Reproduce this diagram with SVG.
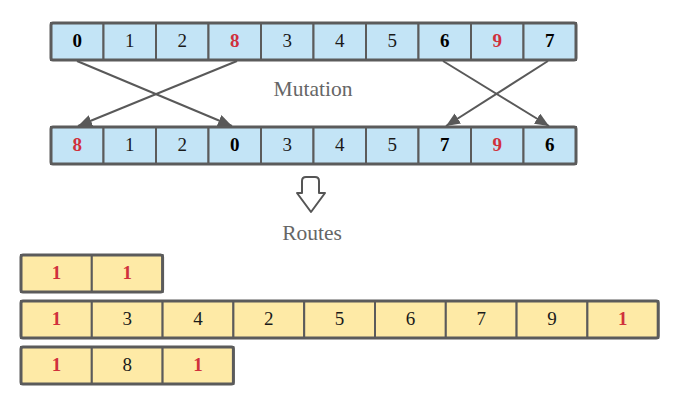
<svg xmlns="http://www.w3.org/2000/svg" width="681" height="407" viewBox="0 0 681 407">
<defs>
<style>
.b{fill:#c3e4f6;stroke:#5b5b5b;stroke-width:2}
.y{fill:#feeaa6;stroke:#5b5b5b;stroke-width:2}
.o{fill:none;stroke:#5b5b5b;stroke-width:3}
text{font-family:"Liberation Serif","Times New Roman",serif;font-size:19px;text-anchor:middle;fill:#1a1a1a}
.k{font-weight:bold;fill:#000}
.rb{fill:#d0303c;font-weight:bold}
.lab{fill:#666;font-size:21.5px}
.c{stroke:#595959;stroke-width:2;fill:none}
</style>
<marker id="ah" viewBox="0 0 14 12" refX="14" refY="6" markerWidth="14" markerHeight="12" markerUnits="userSpaceOnUse" orient="auto">
<path d="M0,0 L14,6 L0,12 z" fill="#595959"/>
</marker>
</defs>
<g id="row-original">
<rect class="b" x="51" y="23" width="52.5" height="37"/>
<rect class="b" x="103.5" y="23" width="52.5" height="37"/>
<rect class="b" x="156" y="23" width="52.5" height="37"/>
<rect class="b" x="208.5" y="23" width="52.5" height="37"/>
<rect class="b" x="261" y="23" width="52.5" height="37"/>
<rect class="b" x="313.5" y="23" width="52.5" height="37"/>
<rect class="b" x="366" y="23" width="52.5" height="37"/>
<rect class="b" x="418.5" y="23" width="52.5" height="37"/>
<rect class="b" x="471" y="23" width="52.5" height="37"/>
<rect class="b" x="523.5" y="23" width="52.5" height="37"/>
<rect class="o" x="51" y="23" width="525" height="37" rx="2"/>
<text class="k" x="77.25" y="47">0</text>
<text x="129.75" y="47">1</text>
<text x="182.25" y="47">2</text>
<text class="rb" x="234.75" y="47">8</text>
<text x="287.25" y="47">3</text>
<text x="339.75" y="47">4</text>
<text x="392.25" y="47">5</text>
<text class="k" x="444.75" y="47">6</text>
<text class="rb" x="497.25" y="47">9</text>
<text class="k" x="549.75" y="47">7</text>
</g>
<g id="row-mutated">
<rect class="b" x="51" y="127" width="52.5" height="37"/>
<rect class="b" x="103.5" y="127" width="52.5" height="37"/>
<rect class="b" x="156" y="127" width="52.5" height="37"/>
<rect class="b" x="208.5" y="127" width="52.5" height="37"/>
<rect class="b" x="261" y="127" width="52.5" height="37"/>
<rect class="b" x="313.5" y="127" width="52.5" height="37"/>
<rect class="b" x="366" y="127" width="52.5" height="37"/>
<rect class="b" x="418.5" y="127" width="52.5" height="37"/>
<rect class="b" x="471" y="127" width="52.5" height="37"/>
<rect class="b" x="523.5" y="127" width="52.5" height="37"/>
<rect class="o" x="51" y="127" width="525" height="37" rx="2"/>
<text class="rb" x="77.25" y="151">8</text>
<text x="129.75" y="151">1</text>
<text x="182.25" y="151">2</text>
<text class="k" x="234.75" y="151">0</text>
<text x="287.25" y="151">3</text>
<text x="339.75" y="151">4</text>
<text x="392.25" y="151">5</text>
<text class="k" x="444.75" y="151">7</text>
<text class="rb" x="497.25" y="151">9</text>
<text class="k" x="549.75" y="151">6</text>
</g>
<g id="connectors">
<line class="c" x1="77" y1="61" x2="232" y2="126" marker-end="url(#ah)"/>
<line class="c" x1="237" y1="61" x2="78" y2="126" marker-end="url(#ah)"/>
<line class="c" x1="443" y1="61" x2="549" y2="126" marker-end="url(#ah)"/>
<line class="c" x1="548" y1="61" x2="446" y2="126" marker-end="url(#ah)"/>
</g>
<text class="lab" x="313" y="96">Mutation</text>
<g id="down-arrow">
<path d="M302,193 L302,181 Q302,177 306,177 L315,177 Q319,177 319,181 L319,193 L325,193 L311,212 L297,193 Z" fill="#fff" stroke="#555" stroke-width="2" stroke-linejoin="round"/>
</g>
<text class="lab" x="312" y="240">Routes</text>
<g id="route-1">
<rect class="y" x="21" y="255" width="70.8" height="37"/>
<rect class="y" x="91.8" y="255" width="70.8" height="37"/>
<rect class="o" x="21" y="255" width="141.6" height="37" rx="2"/>
<text class="rb" x="56.4" y="279">1</text>
<text class="rb" x="127.2" y="279">1</text>
</g>
<g id="route-2">
<rect class="y" x="21" y="301" width="70.8" height="37"/>
<rect class="y" x="91.8" y="301" width="70.8" height="37"/>
<rect class="y" x="162.6" y="301" width="70.8" height="37"/>
<rect class="y" x="233.4" y="301" width="70.8" height="37"/>
<rect class="y" x="304.2" y="301" width="70.8" height="37"/>
<rect class="y" x="375" y="301" width="70.8" height="37"/>
<rect class="y" x="445.8" y="301" width="70.8" height="37"/>
<rect class="y" x="516.6" y="301" width="70.8" height="37"/>
<rect class="y" x="587.4" y="301" width="70.8" height="37"/>
<rect class="o" x="21" y="301" width="637.2" height="37" rx="2"/>
<text class="rb" x="56.4" y="325">1</text>
<text x="127.2" y="325">3</text>
<text x="198" y="325">4</text>
<text x="268.8" y="325">2</text>
<text x="339.6" y="325">5</text>
<text x="410.4" y="325">6</text>
<text x="481.2" y="325">7</text>
<text x="552" y="325">9</text>
<text class="rb" x="622.8" y="325">1</text>
</g>
<g id="route-3">
<rect class="y" x="21" y="347" width="70.8" height="37"/>
<rect class="y" x="91.8" y="347" width="70.8" height="37"/>
<rect class="y" x="162.6" y="347" width="70.8" height="37"/>
<rect class="o" x="21" y="347" width="212.4" height="37" rx="2"/>
<text class="rb" x="56.4" y="371">1</text>
<text x="127.2" y="371">8</text>
<text class="rb" x="198" y="371">1</text>
</g>
</svg>
